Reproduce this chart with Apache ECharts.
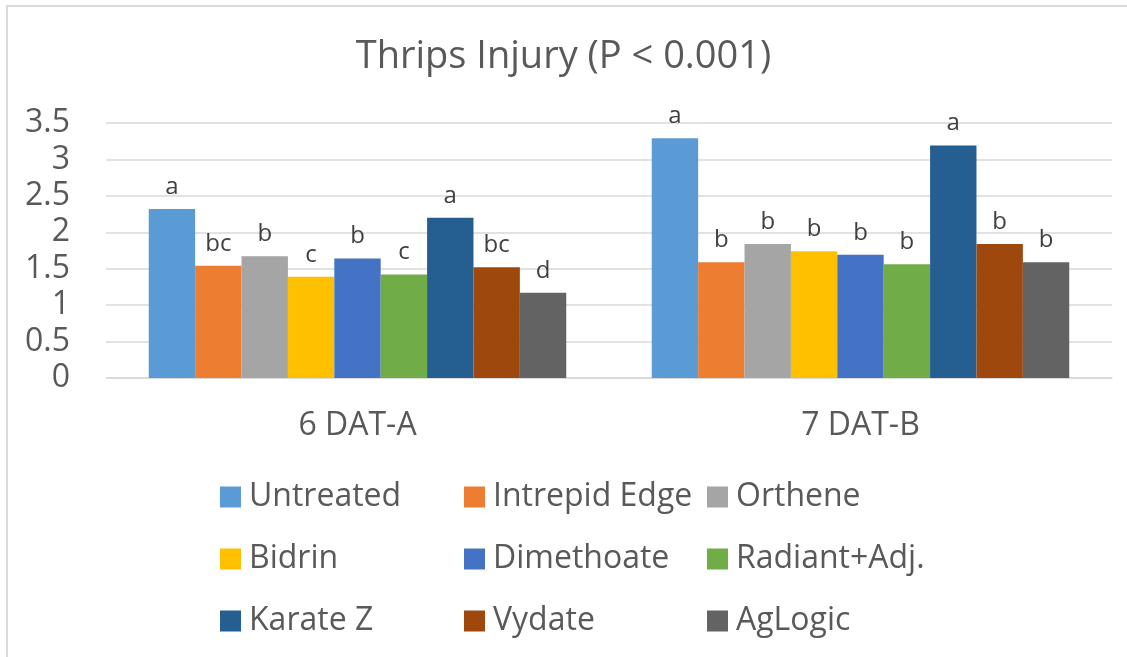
<!DOCTYPE html>
<html>
<head>
<meta charset="utf-8">
<script src="https://cdn.jsdelivr.net/npm/echarts@6/dist/echarts.min.js"></script>
<style>
html,body{margin:0;padding:0;background:#fff;}
#c{width:1127px;height:657px;}
</style>
</head>
<body>
<div id="c"></div>
<script>
const categories = ['6 DAT-A', '7 DAT-B'];
const seriesNames = ['Untreated', 'Intrepid Edge', 'Orthene', 'Bidrin', 'Dimethoate', 'Radiant+Adj.', 'Karate Z', 'Vydate', 'AgLogic'];
const colors = ['#5B9BD5', '#ED7D31', '#A5A5A5', '#FFC000', '#4472C4', '#70AD47', '#255E91', '#9E480E', '#636363'];
const valuesA = [2.32, 1.54, 1.67, 1.39, 1.64, 1.42, 2.20, 1.52, 1.17];
const valuesB = [3.29, 1.59, 1.84, 1.74, 1.69, 1.56, 3.19, 1.84, 1.59];
const lettersA = ['a', 'bc', 'b', 'c', 'b', 'c', 'a', 'bc', 'd'];
const lettersB = ['a', 'b', 'b', 'b', 'b', 'b', 'a', 'b', 'b'];
const yTicks = [0, 0.5, 1, 1.5, 2, 2.5, 3, 3.5];

const FONT = '"Open Sans", sans-serif';
const chart = echarts.init(document.getElementById('c'));

const series = seriesNames.map((name, i) => ({
  name: name,
  type: 'bar',
  data: [valuesA[i], valuesB[i]],
  itemStyle: { color: colors[i] },
  barGap: '0%',
  barCategoryGap: '17%',
  label: {
    show: true,
    position: 'top',
    distance: 10,
    color: '#404040',
    fontSize: 24,
    fontFamily: FONT,
    formatter: p => (p.dataIndex === 0 ? lettersA : lettersB)[i]
  }
}));

const cols = [[0, 3, 6], [1, 4, 7], [2, 5, 8]];
const colX = [220, 464, 707];
const legends = cols.map((c, k) => ({
  orient: 'vertical',
  left: colX[k],
  top: 481,
  padding: 0,
  itemGap: 30,
  itemWidth: 21,
  itemHeight: 21,
  icon: 'rect',
  data: c.map(j => seriesNames[j]),
  textStyle: { fontSize: 32, lineHeight: 32, color: '#595959', fontFamily: FONT, padding: [0, 0, 0, 3] },
  selectedMode: false
}));

chart.setOption({
  animation: false,
  title: {
    text: 'Thrips Injury (P < 0.001)',
    left: 'center',
    top: 33,
    textStyle: { fontSize: 38, fontWeight: 'normal', color: '#595959', fontFamily: FONT }
  },
  legend: legends,
  grid: { left: 106, right: 15, top: 123, bottom: 279, containLabel: false },
  xAxis: {
    type: 'category',
    data: categories,
    axisLine: { lineStyle: { color: '#d9d9d9', width: 1.5 } },
    axisTick: { show: false },
    axisLabel: { fontSize: 32, color: '#595959', fontFamily: FONT, margin: 32 }
  },
  yAxis: {
    type: 'value',
    min: yTicks[0],
    max: yTicks[yTicks.length - 1],
    interval: 0.5,
    axisLine: { show: false },
    axisTick: { show: false },
    splitLine: { lineStyle: { color: '#d9d9d9', width: 1.5 } },
    axisLabel: { fontSize: 32, color: '#595959', fontFamily: FONT, margin: 36 }
  },
  series: series,
  graphic: [{
    type: 'rect',
    shape: { x: 7, y: 6, width: 1300, height: 800 },
    style: { fill: 'none', stroke: '#d9d9d9', lineWidth: 2 },
    silent: true
  }]
});
</script>
</body>
</html>
